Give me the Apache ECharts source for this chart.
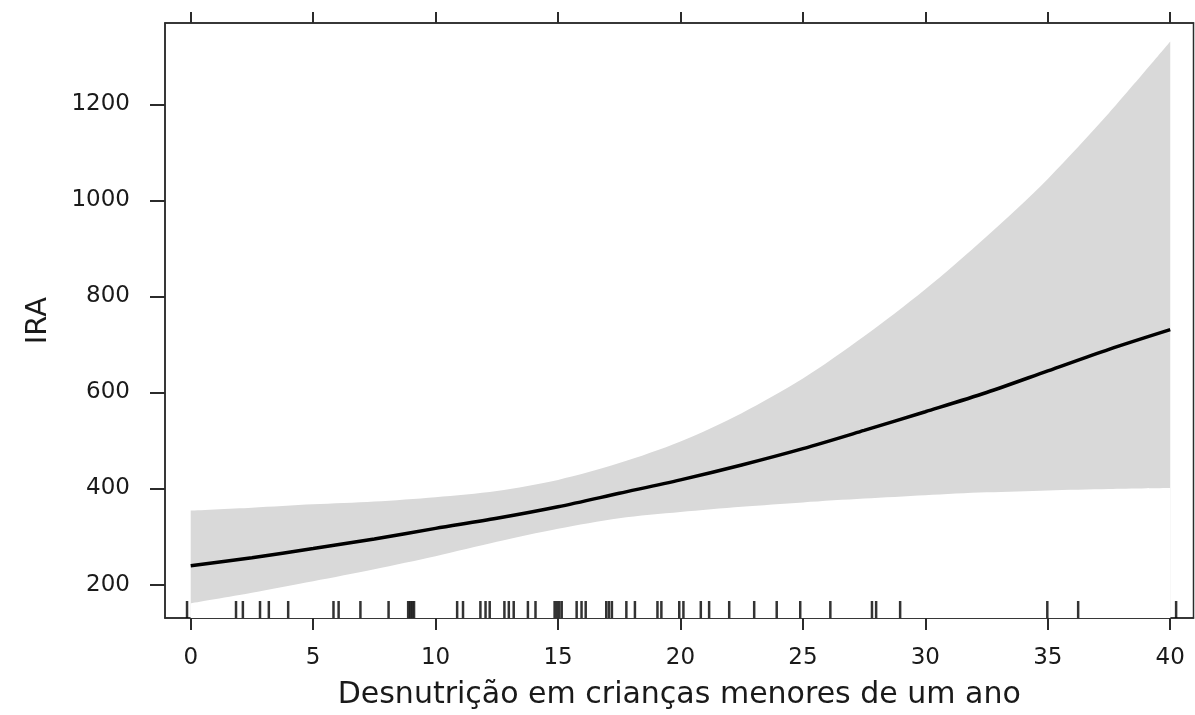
<!DOCTYPE html>
<html>
<head>
<meta charset="utf-8">
<script src="https://cdn.jsdelivr.net/npm/echarts@6/dist/echarts.min.js"></script>
<style>
html,body{margin:0;padding:0;background:#fff;}
#main{width:1195px;height:715px;}
</style>
</head>
<body>
<div id="main"></div>
<script>
// pontos de leitura do eixo x
var xs = [0, 2.5, 5, 7.5, 10, 12.5, 15, 17.5, 20, 22.5, 25, 27.5, 30, 32.5, 35, 37.5, 40];
// curva ajustada e limites do intervalo de confiança
var fitVals   = [239, 256, 275, 295, 317, 338, 362, 390, 418, 449, 483, 521, 560, 600, 645, 690, 731];
var lowerVals = [161, 183, 207, 232, 259, 289, 316, 338, 351, 362, 371, 379, 386, 392, 396, 399, 401];
var upperVals = [354, 360, 367, 373, 382, 395, 418, 453, 498, 557, 629, 717, 815, 925, 1045, 1182, 1331];
// rug (observações)
var rugX = [-0.15, 1.85, 2.13, 2.83, 3.19, 3.98, 5.83, 6.04, 6.93, 8.08, 8.88, 8.96, 9.04, 9.12,
            10.88, 11.12, 11.83, 12.04, 12.21, 12.81, 12.99, 13.19, 13.77, 14.08, 14.86, 14.95,
            15.05, 15.15, 15.76, 15.96, 16.13, 16.97, 17.08, 17.2, 17.79, 18.14, 19.06, 19.22,
            19.95, 20.12, 20.83, 21.17, 21.99, 23.01, 23.93, 24.89, 26.12, 27.82, 27.99, 28.97,
            34.98, 36.24, 40.24];
var xTicks = [0, 5, 10, 15, 20, 25, 30, 35, 40];
var yTicks = [200, 400, 600, 800, 1000, 1200];

var xMin = -1.05, xMax = 40.95;
var yMin = 130.3, yMax = 1369.7;

var lowerData = [], upperData = [], fitData = [], rugData = [];
for (var i = 0; i < xs.length; i++) {
    lowerData.push([xs[i], lowerVals[i]]);
    upperData.push([xs[i], upperVals[i]]);
    fitData.push([xs[i], fitVals[i]]);
}
for (var j = 0; j < rugX.length; j++) {
    rugData.push([rugX[j], yMin]);
}

var txt = {fontFamily: 'DejaVu Sans', fontSize: 23, color: '#1a1a1a'};
var axisCol = '#2b2b2b';

var myChart = echarts.init(document.getElementById('main'));
myChart.setOption({
    animation: false,
    backgroundColor: '#fff',
    grid: {
        left: 165, right: 1.5, top: 23, bottom: 93,
        show: true, borderColor: axisCol, borderWidth: 1.5
    },
    xAxis: [{
        type: 'value', min: xMin, max: xMax,
        name: 'Desnutrição em crianças menores de um ano',
        nameLocation: 'middle', nameGap: 62,
        nameTextStyle: {fontFamily: 'DejaVu Sans', fontSize: 30, color: '#1a1a1a'},
        splitLine: {show: false},
        axisLine: {show: true, onZero: false, lineStyle: {color: axisCol, width: 1.5}},
        axisTick: {show: true, customValues: xTicks, length: 12, lineStyle: {color: axisCol, width: 2}},
        axisLabel: Object.assign({customValues: xTicks, margin: 29}, txt)
    }, {
        type: 'value', min: xMin, max: xMax, position: 'top',
        splitLine: {show: false},
        axisLine: {show: true, onZero: false, lineStyle: {color: axisCol, width: 1.5}},
        axisTick: {show: true, customValues: xTicks, length: 11, lineStyle: {color: axisCol, width: 2}},
        axisLabel: {show: false}
    }],
    yAxis: {
        type: 'value', min: yMin, max: yMax,
        name: 'IRA', nameLocation: 'middle', nameGap: 112,
        nameTextStyle: {fontFamily: 'DejaVu Sans', fontSize: 29, color: '#1a1a1a'},
        splitLine: {show: false},
        axisLine: {show: true, onZero: false, lineStyle: {color: axisCol, width: 1.5}},
        axisTick: {show: true, customValues: yTicks, length: 15, lineStyle: {color: axisCol, width: 2}},
        axisLabel: Object.assign({
            customValues: yTicks, margin: 35,
            formatter: function (v) { return String(v); }
        }, txt)
    },
    series: [{
        // limite superior: cinza até a base
        type: 'line', data: upperData, symbol: 'none', smooth: 0.3,
        lineStyle: {opacity: 0},
        areaStyle: {color: '#d9d9d9', opacity: 1, origin: 'start'}, z: 1
    }, {
        // limite inferior: branco por cima
        type: 'line', data: lowerData, symbol: 'none', smooth: 0.3,
        lineStyle: {opacity: 0},
        areaStyle: {color: '#fff', opacity: 1, origin: 'start'}, z: 2
    }, {
        type: 'scatter', data: rugData, symbol: 'rect',
        symbolSize: [2.5, 17], symbolOffset: [0, -8.5],
        itemStyle: {color: '#000'}, clip: false, z: 3
    }, {
        type: 'line', data: fitData, symbol: 'none', smooth: 0.3,
        lineStyle: {color: '#000', width: 3.5}, z: 4
    }]
});
</script>
</body>
</html>
